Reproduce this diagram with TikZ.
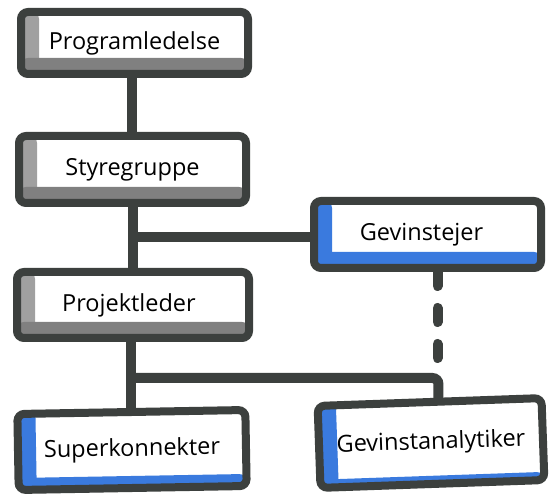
\documentclass[tikz,border=0pt]{standalone}
\usepackage{fontspec}
\setmainfont{Open Sans}
\definecolor{inkc}{RGB}{60,64,62}
\definecolor{greyL}{RGB}{160,160,160}
\definecolor{greyB}{RGB}{128,128,128}
\definecolor{markerblue}{RGB}{58,122,222}
\begin{document}
\begin{tikzpicture}[x=1pt,y=-1pt,
  orgbox/.style={draw=inkc, line width=8pt, rounded corners=7pt, fill=white,
    inner sep=0pt, text=black, font=\fontsize{23.5}{28}\selectfont},
  greystrip/.style={path picture={
    \fill[greyL] (path picture bounding box.south west) rectangle ([xshift=18pt]path picture bounding box.north west);
    \fill[greyB] (path picture bounding box.south west) rectangle ([yshift=16pt]path picture bounding box.south east);}},
  bluestrip/.style={path picture={
    \fill[markerblue] (path picture bounding box.south west) rectangle ([xshift=18pt]path picture bounding box.north west);
    \fill[markerblue] (path picture bounding box.south west) rectangle ([yshift=16pt]path picture bounding box.south east);}},
  conn/.style={draw=inkc, line width=10pt},
  dotted link/.style={conn, line cap=round, dash pattern=on 14pt off 22pt}]
\useasboundingbox[fill=white] (0,0) rectangle (550,494);

\coordinate (split) at (131,378);
\coordinate (upper) at (132.5,237.5);

% boxes
\node[orgbox, greystrip, minimum width=227pt, minimum height=62pt] (prog) at (134.5,43) {Programledelse};
\node[orgbox, greystrip, minimum width=227pt, minimum height=67pt] (styr) at (132.5,169.5) {Styregruppe};
\node[orgbox, bluestrip, minimum width=227pt, minimum height=67pt] (gev) at (427.5,234.5) {Gevinstejer\hspace*{12pt}};
\node[orgbox, greystrip, minimum width=232pt, minimum height=66pt] (proj) at (133,305) {Projektleder\hspace*{8pt}};
\node[orgbox, bluestrip, minimum width=228pt, minimum height=76pt, rotate=1] (supk) at (132,450) {Superkonnekter};
\node[orgbox, bluestrip, minimum width=224pt, minimum height=82pt, rotate=2] (gevan) at (431,443) {Gevinstanalytiker};

% links between the boxes
\draw[conn] ([xshift=-3pt]prog.south) -- ([xshift=-3pt]prog.south |- styr.north);
\draw[conn] (styr.south) -- (styr.south |- proj.north);
\draw[conn] (upper) -- (upper -| gev.west);
\coordinate (gevout) at ([xshift=10pt]gev.south);
\draw[dotted link] (gevout) -- (gevout |- split);
\draw[conn] ([xshift=-2pt]proj.south) -- ([xshift=-2pt]proj.south |- supk.north);
\draw[conn, rounded corners=6pt] (split) -| ([xshift=9pt]gevan.north);
\end{tikzpicture}
\end{document}
